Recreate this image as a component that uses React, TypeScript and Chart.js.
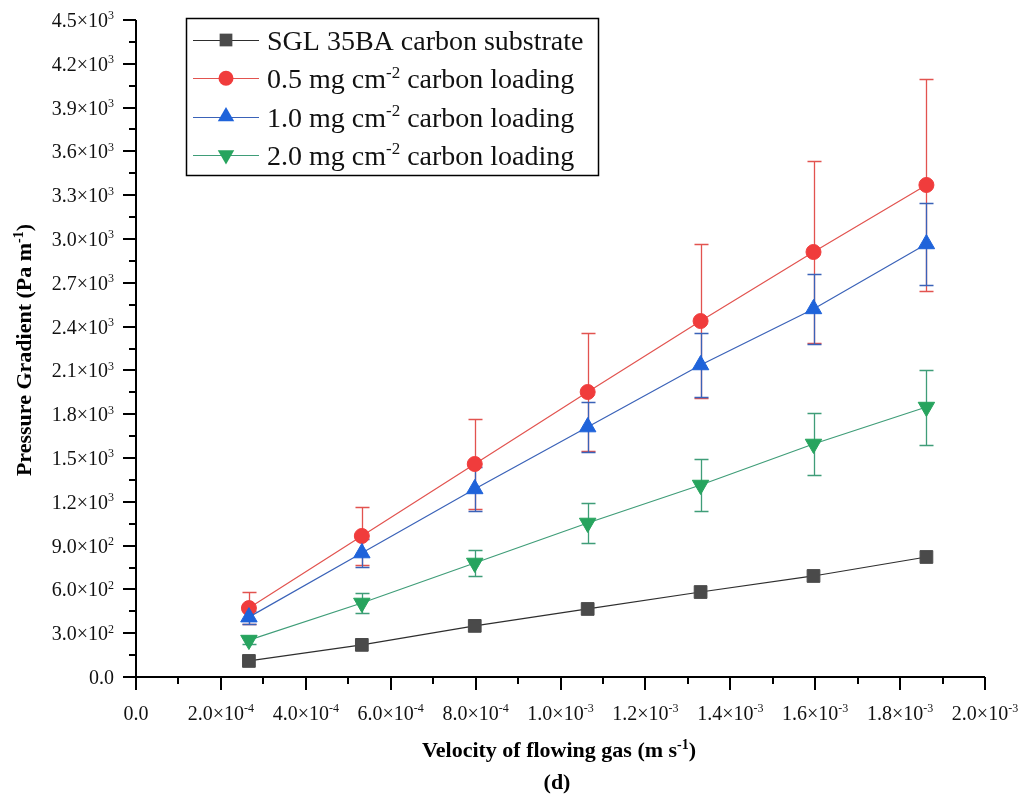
import React, { useEffect, useRef } from 'react';
import { Chart, registerables } from 'chart.js';

Chart.register(...registerables);

// ---------- data ----------
const velocities = [2.66e-4, 5.32e-4, 7.98e-4, 1.064e-3, 1.33e-3, 1.596e-3, 1.862e-3];

const substrateValues = [110, 220, 350, 466, 582, 692, 822];
const substrateErrors = [0, 0, 0, 0, 0, 0, 0];

const loading05Values = [472, 966, 1459, 1952, 2438, 2911, 3370];
const loading05Errors = [110, 200, 310, 405, 530, 625, 725];

const loading10Values = [410, 849, 1288, 1712, 2137, 2521, 2966];
const loading10Errors = [45, 95, 150, 172, 218, 242, 278];

const loading20Values = [253, 507, 781, 1055, 1315, 1596, 1849];
const loading20Errors = [25, 70, 90, 135, 175, 213, 257];

const seriesLabels = [
  'SGL 35BA carbon substrate',
  '0.5 mg cm^-2 carbon loading',
  '1.0 mg cm^-2 carbon loading',
  '2.0 mg cm^-2 carbon loading',
];

const xTitle = 'Velocity of flowing gas (m s^-1)';
const yTitle = 'Pressure Gradient (Pa m^-1)';
const panelLabel = '(d)';

const xMin = 0;
const xMax = 0.002;
const xStep = 0.0002;
const yMin = 0;
const yMax = 4500;
const yStep = 300;

// ---------- styles ----------
const FONT = '"Liberation Serif", "Times New Roman", serif';

const styles = [
  { line: '#2e2e2e', marker: '#4a4a4a', style: 'rect', radius: 9, rotation: 0 },
  { line: '#e2534f', marker: '#f03c3c', style: 'circle', radius: 7.5, rotation: 0 },
  { line: '#3a62b8', marker: '#1f63da', style: 'triangle', radius: 9.5, rotation: 0 },
  { line: '#3f9d78', marker: '#27a45e', style: 'triangle', radius: 9.5, rotation: 180 },
];

const seriesValues = [substrateValues, loading05Values, loading10Values, loading20Values];
const seriesErrors = [substrateErrors, loading05Errors, loading10Errors, loading20Errors];

type Seg = { text: string; sup: boolean };

function parseRich(s: string): Seg[] {
  const parts = s.split(/(\^[^\s)]+)/);
  const out: Seg[] = [];
  for (const p of parts) {
    if (!p) continue;
    if (p.startsWith('^')) out.push({ text: p.slice(1), sup: true });
    else out.push({ text: p, sup: false });
  }
  return out;
}

function drawRich(
  ctx: CanvasRenderingContext2D,
  segs: Seg[],
  x: number,
  y: number,
  size: number,
  bold: boolean,
  align: 'left' | 'center' | 'right',
  color = '#000'
) {
  const w = bold ? 'bold ' : '';
  const base = `${w}${size}px ${FONT}`;
  const supSize = Math.round(size * 0.62);
  const sup = `${w}${supSize}px ${FONT}`;
  let total = 0;
  const widths: number[] = [];
  for (const s of segs) {
    ctx.font = s.sup ? sup : base;
    const m = ctx.measureText(s.text).width;
    widths.push(m);
    total += m;
  }
  let cx = x;
  if (align === 'center') cx = x - total / 2;
  else if (align === 'right') cx = x - total;
  ctx.fillStyle = color;
  ctx.textAlign = 'left';
  ctx.textBaseline = 'alphabetic';
  segs.forEach((s, i) => {
    ctx.font = s.sup ? sup : base;
    ctx.fillText(s.text, cx, s.sup ? y - size * 0.38 : y);
    cx += widths[i];
  });
}

function tickSegs(v: number): Seg[] {
  if (Math.abs(v) < 1e-12) return [{ text: '0.0', sup: false }];
  const e = v.toExponential(1); // e.g. "2.0e-4"
  const [mant, exp] = e.split('e');
  const expNum = parseInt(exp, 10);
  return [
    { text: `${mant}\u00d710`, sup: false },
    { text: `${expNum}`, sup: true },
  ];
}

function drawMarker(ctx: CanvasRenderingContext2D, st: any, x: number, y: number) {
  ctx.fillStyle = st.marker;
  ctx.beginPath();
  const r = st.radius;
  if (st.style === 'rect') {
    const s = Math.SQRT1_2 * r;
    ctx.rect(x - s, y - s, 2 * s, 2 * s);
  } else if (st.style === 'circle') {
    ctx.arc(x, y, r, 0, Math.PI * 2);
  } else {
    let rad = (st.rotation * Math.PI) / 180;
    ctx.moveTo(x + Math.sin(rad) * r, y - Math.cos(rad) * r);
    rad += (2 * Math.PI) / 3;
    ctx.lineTo(x + Math.sin(rad) * r, y - Math.cos(rad) * r);
    rad += (2 * Math.PI) / 3;
    ctx.lineTo(x + Math.sin(rad) * r, y - Math.cos(rad) * r);
    ctx.closePath();
  }
  ctx.fill();
}

const errorBarPlugin = {
  id: 'errorBars',
  beforeDatasetsDraw(chart: any) {
    const ctx = chart.ctx as CanvasRenderingContext2D;
    const xs = chart.scales.x;
    const ys = chart.scales.y;
    ctx.save();
    seriesErrors.forEach((errs, si) => {
      ctx.strokeStyle = styles[si].line;
      ctx.lineWidth = 1.3;
      errs.forEach((e, i) => {
        if (!e) return;
        const v = seriesValues[si][i];
        const px = Math.round(xs.getPixelForValue(velocities[i])) + 0.5;
        const yt = Math.round(ys.getPixelForValue(v + e)) + 0.5;
        const yb = Math.round(ys.getPixelForValue(v - e)) + 0.5;
        ctx.beginPath();
        ctx.moveTo(px, yt);
        ctx.lineTo(px, yb);
        ctx.moveTo(px - 7, yt);
        ctx.lineTo(px + 7, yt);
        ctx.moveTo(px - 7, yb);
        ctx.lineTo(px + 7, yb);
        ctx.stroke();
      });
    });
    ctx.restore();
  },
};

const decorPlugin = {
  id: 'decor',
  afterDraw(chart: any) {
    const ctx = chart.ctx as CanvasRenderingContext2D;
    const xs = chart.scales.x;
    const ys = chart.scales.y;
    const { left, right, top, bottom } = chart.chartArea;
    ctx.save();
    ctx.strokeStyle = '#000';
    ctx.lineWidth = 2;
    // axes lines
    ctx.beginPath();
    ctx.moveTo(left, top);
    ctx.lineTo(left, bottom + 1);
    ctx.moveTo(left - 1, bottom);
    ctx.lineTo(right, bottom);
    ctx.stroke();

    // y ticks
    const yt = ys.ticks.map((t: any) => t.value);
    ctx.beginPath();
    yt.forEach((v: number, i: number) => {
      const py = Math.round(ys.getPixelForValue(v));
      ctx.moveTo(left - 13, py);
      ctx.lineTo(left, py);
      if (i < yt.length - 1) {
        const pm = Math.round(ys.getPixelForValue((v + yt[i + 1]) / 2));
        ctx.moveTo(left - 7, pm);
        ctx.lineTo(left, pm);
      }
    });
    // x ticks
    const xt = xs.ticks.map((t: any) => t.value);
    xt.forEach((v: number, i: number) => {
      const px = Math.round(xs.getPixelForValue(v));
      ctx.moveTo(px, bottom);
      ctx.lineTo(px, bottom + 13);
      if (i < xt.length - 1) {
        const pm = Math.round(xs.getPixelForValue((v + xt[i + 1]) / 2));
        ctx.moveTo(pm, bottom);
        ctx.lineTo(pm, bottom + 7);
      }
    });
    ctx.stroke();

    // tick labels
    yt.forEach((v: number) => {
      const py = ys.getPixelForValue(v);
      drawRich(ctx, tickSegs(v), left - 22, py + 7, 20, false, 'right', '#111');
    });
    xt.forEach((v: number) => {
      const px = xs.getPixelForValue(v);
      drawRich(ctx, tickSegs(v), px, bottom + 43, 20, false, 'center', '#111');
    });

    // axis titles
    drawRich(ctx, parseRich(xTitle), 559, 757, 22, true, 'center');
    drawRich(ctx, parseRich(panelLabel), 557, 789, 22, true, 'center');
    ctx.save();
    ctx.translate(31, 350);
    ctx.rotate(-Math.PI / 2);
    drawRich(ctx, parseRich(yTitle), 0, 0, 22, true, 'center');
    ctx.restore();

    // legend
    const lx = 186, ly = 18, lw = 412, lh = 157;
    ctx.fillStyle = '#fff';
    ctx.fillRect(lx, ly, lw, lh);
    ctx.strokeStyle = '#000';
    ctx.lineWidth = 1.5;
    ctx.strokeRect(lx + 0.5, ly + 0.5, lw, lh);
    seriesLabels.forEach((lab, i) => {
      const cy = 40 + i * 38.3;
      ctx.strokeStyle = styles[i].line;
      ctx.lineWidth = 1.2;
      ctx.beginPath();
      ctx.moveTo(193, Math.round(cy) + 0.5);
      ctx.lineTo(259, Math.round(cy) + 0.5);
      ctx.stroke();
      drawMarker(ctx, styles[i], 226, cy);
      drawRich(ctx, parseRich(lab), 267, cy + 10, 28, false, 'left', '#111');
    });
    ctx.restore();
  },
};

export default function App() {
  const ref = useRef<HTMLCanvasElement | null>(null);

  useEffect(() => {
    const canvas = ref.current;
    if (!canvas) return;
    const datasets = seriesValues.map((vals, si) => ({
      label: seriesLabels[si],
      data: vals.map((v, i) => ({ x: velocities[i], y: v })),
      showLine: true,
      borderColor: styles[si].line,
      borderWidth: 1.2,
      backgroundColor: styles[si].marker,
      pointBackgroundColor: styles[si].marker,
      pointBorderColor: styles[si].marker,
      pointBorderWidth: 1,
      pointStyle: styles[si].style,
      pointRotation: styles[si].rotation,
      pointRadius: styles[si].radius,
      order: [4, 3, 2, 1][si],
      clip: false as any,
    }));
    const chart = new Chart(canvas, {
      type: 'scatter',
      data: { datasets },
      options: {
        animation: false,
        responsive: false,
        devicePixelRatio: 1,
        layout: { padding: { top: 20, right: 46, left: 0, bottom: 0 } },
        plugins: {
          legend: { display: false },
          tooltip: { enabled: false },
          title: { display: false },
        },
        scales: {
          x: {
            type: 'linear',
            min: xMin,
            max: xMax,
            ticks: { stepSize: xStep, display: false },
            grid: { display: false },
            border: { display: false },
            afterFit: (s: any) => {
              s.height = 121;
            },
          },
          y: {
            type: 'linear',
            min: yMin,
            max: yMax,
            ticks: { stepSize: yStep, display: false },
            grid: { display: false },
            border: { display: false },
            afterFit: (s: any) => {
              s.width = 136;
            },
          },
        },
      },
      plugins: [errorBarPlugin, decorPlugin],
    });
    return () => chart.destroy();
  }, []);

  return (
    <div style={{ position: 'fixed', left: 0, top: 0, width: 1031, height: 798, background: '#fff' }}>
      <canvas ref={ref} width={1031} height={798} style={{ width: 1031, height: 798, display: 'block' }} />
    </div>
  );
}
